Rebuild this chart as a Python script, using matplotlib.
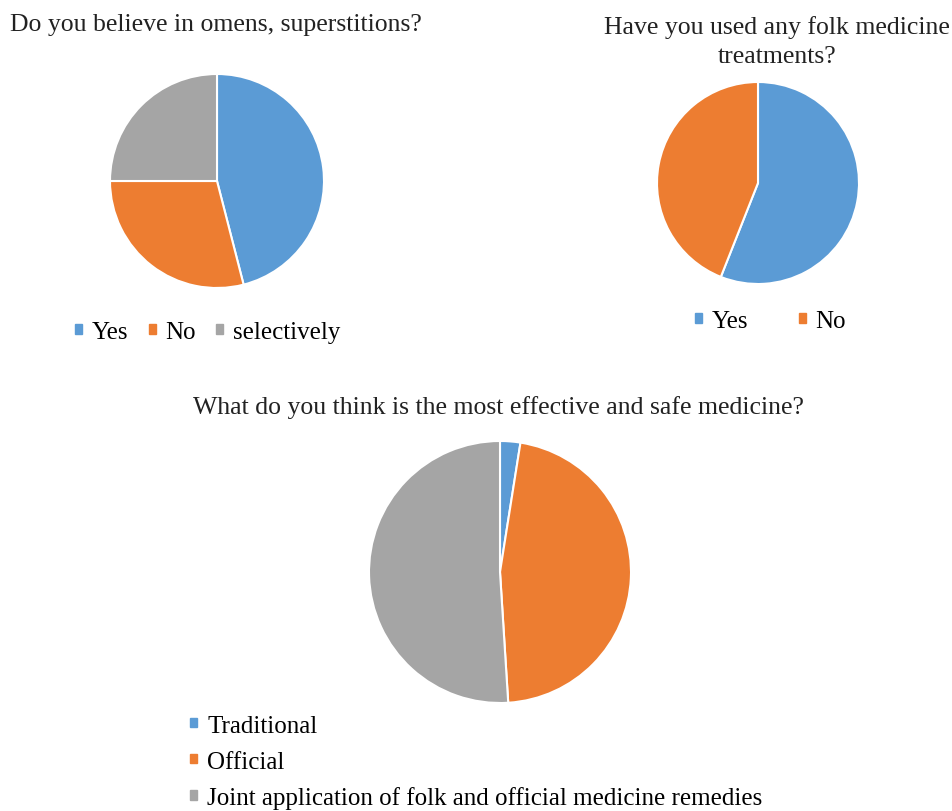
import matplotlib.pyplot as plt
from matplotlib.patches import Patch

plt.rcParams['font.family'] = ['Liberation Serif', 'DejaVu Serif']

W, H = 952, 812
colors = ['#5B9BD5', '#ED7D31', '#A5A5A5']

# chart 1
omens_labels = ['Yes', 'No', 'selectively']
omens_values = [46, 29, 25]
# chart 2
folk_labels = ['Yes', 'No']
folk_values = [56, 44]
# chart 3
safe_labels = ['Traditional', 'Official', 'Joint application of folk and official medicine remedies']
safe_values = [2.5, 46.5, 51]


def pie_axes(fig, cx, cy, r):
    # pixel centre / radius -> figure axes
    ax = fig.add_axes([(cx - r) / W, 1 - (cy + r) / H, 2 * r / W, 2 * r / H])
    ax.axis('off')
    return ax


def draw_pie(ax, values):
    ax.pie(values, colors=colors[:len(values)], startangle=90, counterclock=False,
           radius=1, center=(0, 0), frame=False,
           wedgeprops=dict(edgecolor='white', linewidth=1.5))
    ax.set_xlim(-1, 1)
    ax.set_ylim(-1, 1)


def add_legend(fig, labels, x, y, ncol, spacing=0.35, colsp=1.0):
    handles = [Patch(color=colors[i]) for i in range(len(labels))]
    fig.legend(handles, labels, loc='center left', bbox_to_anchor=(x / W, 1 - y / H),
               ncol=ncol, frameon=False, fontsize=18, handlelength=0.28, handleheight=0.2,
               handletextpad=0.4, columnspacing=colsp, labelspacing=spacing, borderpad=0,
               borderaxespad=0)


fig = plt.figure(figsize=(W / 100, H / 100), dpi=100)

ax1 = pie_axes(fig, 217, 182, 107)
draw_pie(ax1, omens_values)
fig.text(10 / W, 1 - 25 / H, 'Do you believe in omens, superstitions?', fontsize=18.5,
         ha='left', va='center', color='#222222')
add_legend(fig, omens_labels, 75, 333, 3, colsp=0.8)

ax2 = pie_axes(fig, 758, 184, 101)
draw_pie(ax2, folk_values)
fig.text(777 / W, 1 - 42 / H, 'Have you used any folk medicine\ntreatments?', fontsize=18.5,
         ha='center', va='center', color='#222222', linespacing=1.4)
add_legend(fig, folk_labels, 695, 322, 2, colsp=2.0)

ax3 = pie_axes(fig, 500, 573, 131)
draw_pie(ax3, safe_values)
fig.text(498 / W, 1 - 408 / H, 'What do you think is the most effective and safe medicine?',
         fontsize=18.5, ha='center', va='center', color='#222222')
add_legend(fig, safe_labels, 190, 763, 1, spacing=0.55)

fig.savefig('out.png', dpi=100)
